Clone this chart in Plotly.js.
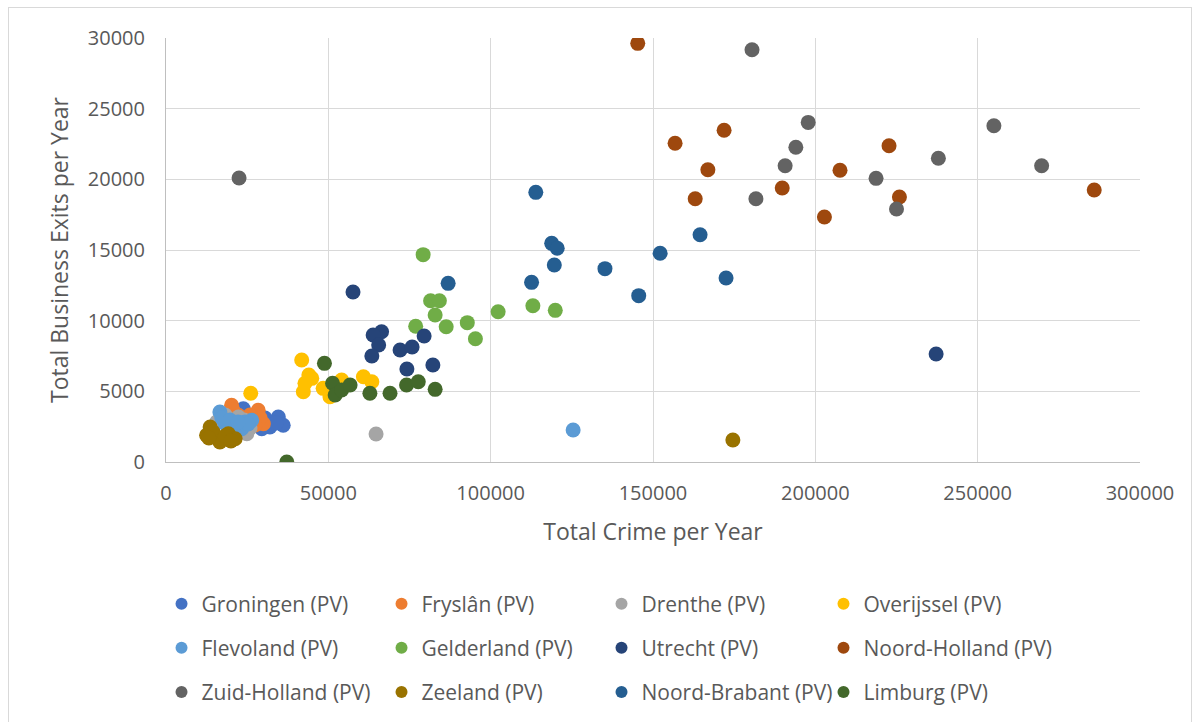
<!DOCTYPE html>
<html>
<head>
<meta charset="utf-8">
<script src="https://cdn.plot.ly/plotly-3.0.1.min.js"></script>
<style>
  html, body { margin: 0; padding: 0; background: #ffffff; }
  #wrap { position: relative; width: 1200px; height: 722px; }
  #chart { position: absolute; left: 0; top: 0; width: 1200px; height: 722px; }
  #frame { position: absolute; left: 8px; top: 7px; width: 1184px; height: 720px; border: 1px solid #d9d9d9; pointer-events: none; box-sizing: border-box; }
</style>
</head>
<body>
<div id="wrap">
  <div id="chart"></div>
  <div id="frame"></div>
</div>
<script>
// Province names (legend order)
const provinces = [
  "Groningen (PV)", "Fryslân (PV)", "Drenthe (PV)", "Overijssel (PV)",
  "Flevoland (PV)", "Gelderland (PV)", "Utrecht (PV)", "Noord-Holland (PV)",
  "Zuid-Holland (PV)", "Zeeland (PV)", "Noord-Brabant (PV)", "Limburg (PV)"
];

// Total crime per year (x) and total business exits per year (y), per province
const groningenX = [23800, 34600, 36100, 32000, 29500, 27400, 25900, 30500, 22800, 33900, 24900];
const groningenY = [3770, 3180, 2600, 2480, 2360, 2970, 2620, 3110, 3110, 2760, 3330];

const fryslanX = [20200, 22300, 28400, 30000, 20600, 29000, 23400, 19100, 25900, 27400, 21600];
const fryslanY = [4010, 3300, 3660, 2710, 3680, 3110, 2970, 3110, 3330, 2620, 2760];

const drentheX = [64700, 15600, 24900, 22300, 18200, 20300, 22800, 25900, 19100, 24000, 21600];
const drentheY = [1980, 2830, 2000, 3180, 3330, 2970, 2410, 2410, 2620, 2970, 2260];

const overijsselX = [41800, 44900, 42800, 42300, 48400, 50500, 54100, 60800, 63400, 26100, 44000];
const overijsselY = [7220, 5920, 5570, 4970, 5210, 4620, 5800, 6030, 5680, 4860, 6160];

const flevolandX = [16600, 18200, 21300, 24300, 26400, 23300, 125400, 17200, 19700, 25300, 22200];
const flevolandY = [3540, 2710, 2600, 2830, 2950, 2360, 2260, 3110, 2970, 2690, 2830];

const gelderlandX = [79200, 81500, 84200, 82900, 76900, 86300, 92800, 95300, 102300, 113000, 119900];
const gelderlandY = [14670, 11410, 11410, 10400, 9600, 9570, 9860, 8720, 10630, 11060, 10730];

const utrechtX = [57600, 66400, 63800, 65500, 63400, 72100, 75800, 79500, 74200, 82200, 237200];
const utrechtY = [12030, 9220, 8990, 8280, 7500, 7920, 8140, 8910, 6580, 6860, 7640];

const noordHollandX = [145300, 156800, 171900, 166900, 163000, 189800, 207600, 202800, 222700, 225900, 285900];
const noordHollandY = [29620, 22550, 23470, 20680, 18630, 19390, 20640, 17330, 22380, 18750, 19240];

const zuidHollandX = [180500, 197800, 194000, 190700, 181700, 218700, 225000, 237900, 255000, 269700, 22500];
const zuidHollandY = [29170, 24030, 22270, 20960, 18630, 20070, 17900, 21490, 23790, 20960, 20090];

const zeelandX = [13600, 12500, 16100, 19200, 21300, 16600, 174600, 14500, 18200, 20000, 13200];
const zeelandY = [2480, 1890, 1650, 2000, 1650, 1420, 1560, 2120, 1840, 1490, 1700];

const noordBrabantX = [113900, 118800, 120500, 119600, 112600, 86900, 135200, 145600, 152200, 164500, 172500];
const noordBrabantY = [19080, 15470, 15120, 13940, 12710, 12640, 13680, 11770, 14770, 16080, 13020];

const limburgX = [48800, 37200, 51300, 52100, 54100, 56700, 62800, 69000, 74100, 77700, 82900];
const limburgY = [6980, 0, 5570, 4740, 5090, 5450, 4860, 4860, 5450, 5680, 5140];

const xValues = [groningenX, fryslanX, drentheX, overijsselX, flevolandX, gelderlandX,
                 utrechtX, noordHollandX, zuidHollandX, zeelandX, noordBrabantX, limburgX];
const yValues = [groningenY, fryslanY, drentheY, overijsselY, flevolandY, gelderlandY,
                 utrechtY, noordHollandY, zuidHollandY, zeelandY, noordBrabantY, limburgY];

const colors = ["#4472C4", "#ED7D31", "#A5A5A5", "#FFC000", "#5B9BD5", "#70AD47",
                "#264478", "#9E480E", "#636363", "#997300", "#255E91", "#43682B"];

// Legend layout: 3 rows of 4 entries. Columns 1-2 share one legend per row;
// columns 3 and 4 each get their own legend so long names are not clipped.
function legendFor(i) {
  const row = Math.floor(i / 4), col = i % 4;
  const group = col < 2 ? 0 : col - 1;           // 0, 1, 2
  const n = group * 3 + row + 1;                   // 1..9
  return n === 1 ? "legend" : "legend" + n;
}

const traces = provinces.map((name, i) => ({
  type: "scatter",
  mode: "markers",
  name: name,
  x: xValues[i],
  y: yValues[i],
  marker: { color: colors[i], size: 15, line: { width: 0 } },
  legend: legendFor(i),
  hoverinfo: "x+y+name"
}));

const FONT = "'Open Sans', 'Noto Sans', sans-serif";
const TXT = "#595959";

function legendBox(x, y, fixedWidth) {
  const lg = {
    orientation: "h",
    xref: "container", yref: "container",
    x: x, xanchor: "left",
    y: y, yanchor: "top",
    font: { family: FONT, size: 21, color: TXT },
    bgcolor: "rgba(0,0,0,0)",
    itemsizing: "constant",
    traceorder: "normal"
  };
  if (fixedWidth) { lg.entrywidth = 175; lg.entrywidthmode = "pixels"; }
  return lg;
}

const rowY = [0.1918, 0.1309, 0.0693];
const colX = [0.1346, 0.50125, 0.68625];

const layout = {
  width: 1200, height: 722,
  margin: { l: 166, r: 60, t: 38, b: 260, pad: 0 },
  paper_bgcolor: "#ffffff",
  plot_bgcolor: "#ffffff",
  font: { family: FONT, size: 21, color: TXT },
  showlegend: true,
  xaxis: {
    range: [0, 300000], dtick: 50000, tick0: 0, tickformat: "d",
    showgrid: true, gridcolor: "#d9d9d9", gridwidth: 1,
    zeroline: false, showline: true, linecolor: "#bfbfbf", linewidth: 1,
    ticks: "", ticklabelstandoff: 13,
    tickfont: { family: FONT, size: 20, color: TXT },
    title: { text: "Total Crime per Year", font: { family: FONT, size: 23, color: TXT }, standoff: 18 },
    fixedrange: true
  },
  yaxis: {
    range: [0, 30000], dtick: 5000, tick0: 0, tickformat: "d",
    showgrid: true, gridcolor: "#d9d9d9", gridwidth: 1,
    zeroline: false, showline: true, linecolor: "#bfbfbf", linewidth: 1,
    ticks: "", ticklabelstandoff: 16,
    tickfont: { family: FONT, size: 20, color: TXT },
    title: { text: "Total Business Exits per Year", font: { family: FONT, size: 23, color: TXT }, standoff: 12 },
    fixedrange: true
  },
  legend:  legendBox(colX[0], rowY[0], true),
  legend2: legendBox(colX[0], rowY[1], true),
  legend3: legendBox(colX[0], rowY[2], true),
  legend4: legendBox(colX[1], rowY[0], false),
  legend5: legendBox(colX[1], rowY[1], false),
  legend6: legendBox(colX[1], rowY[2], false),
  legend7: legendBox(colX[2], rowY[0], false),
  legend8: legendBox(colX[2], rowY[1], false),
  legend9: legendBox(colX[2], rowY[2], false)
};

Plotly.newPlot("chart", traces, layout, { displayModeBar: false });
</script>
</body>
</html>
